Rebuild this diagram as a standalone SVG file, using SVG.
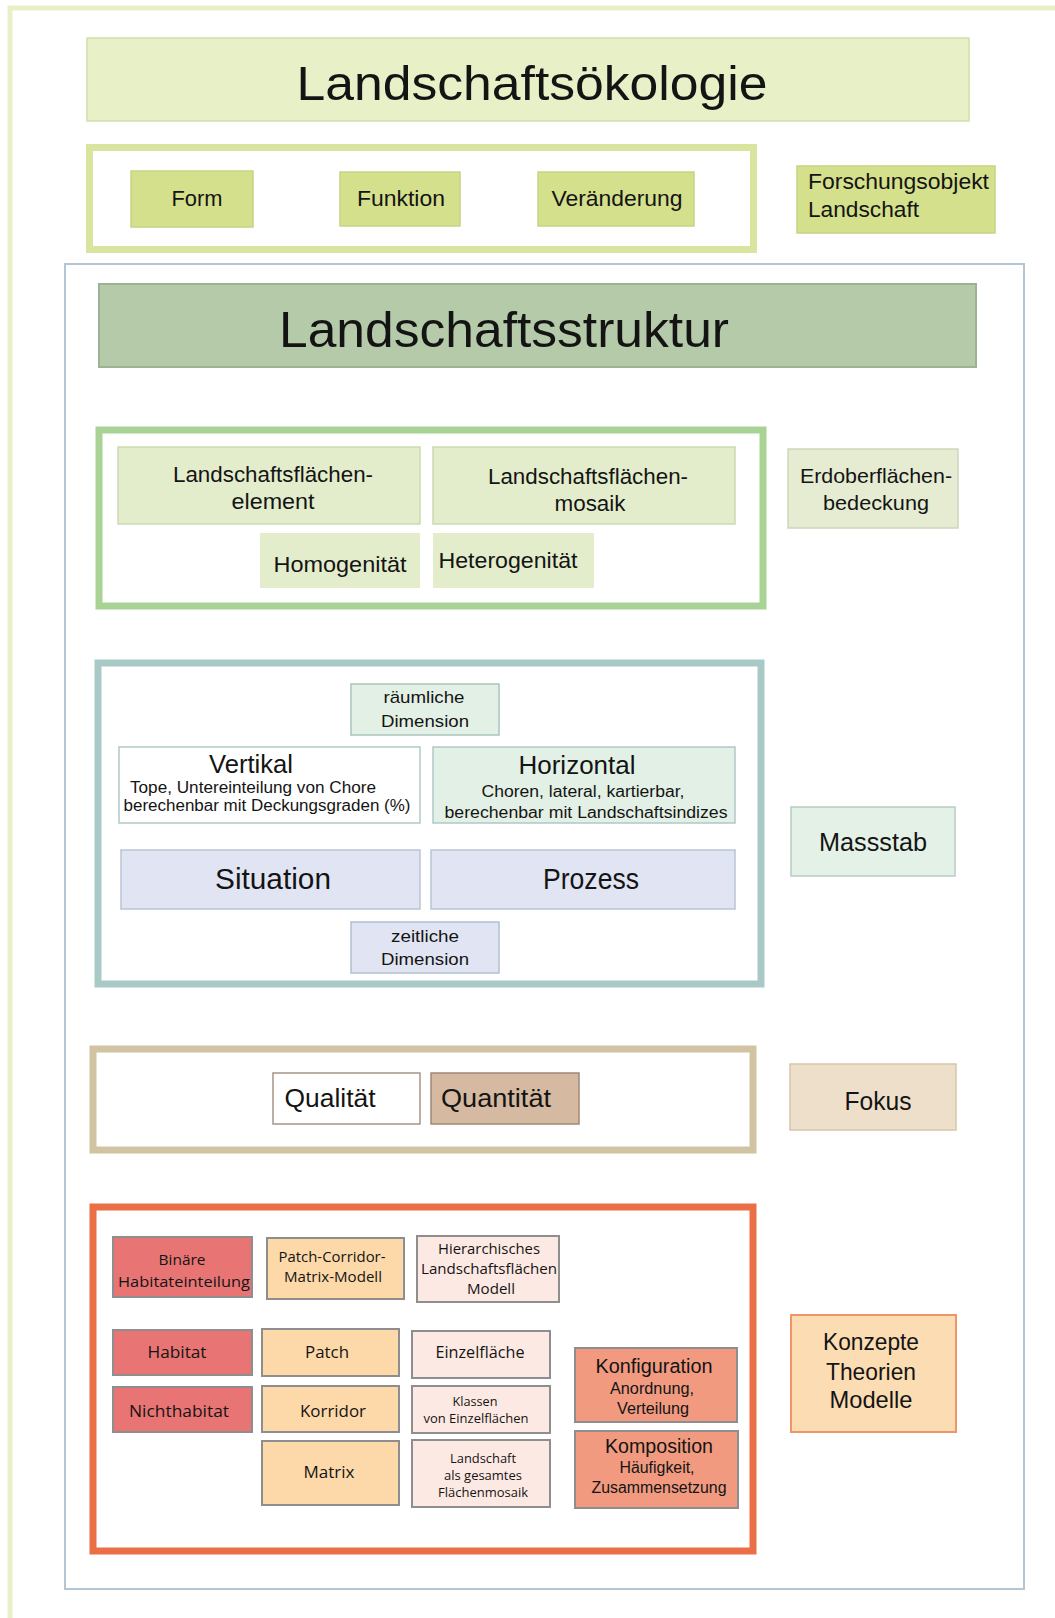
<svg xmlns="http://www.w3.org/2000/svg" width="1055" height="1618" viewBox="0 0 1055 1618">
<style>
text{font-family:"Liberation Sans",Arial,sans-serif;fill:#141414;text-anchor:middle}
.s{font-family:"Open Sans","DejaVu Sans",sans-serif}
.frame{fill:none;stroke-width:7}
.gb{stroke:#8e8e8e;stroke-width:2}
</style>
<rect width="1055" height="1618" fill="#ffffff"/>
<path d="M10 1618 V8 H1055" fill="none" stroke="#e8f0c8" stroke-width="5"/>

<g id="landschaftsoekologie">
<rect x="87" y="38" width="882" height="83" fill="#e8f0c8" stroke="#d0e0aa" stroke-width="1.5"/>
<text x="532" y="100" font-size="48" textLength="471" lengthAdjust="spacingAndGlyphs">Landschaftsökologie</text>
</g>
<g id="frame-objekt">
<rect x="89.5" y="147.5" width="664" height="102" class="frame" stroke="#d9e59e"/>
</g>
<g id="form">
<rect x="131" y="171" width="122" height="56" fill="#d4e08c" stroke="#c6d580" stroke-width="1.5"/>
<text x="197" y="206" font-size="22" textLength="51" lengthAdjust="spacingAndGlyphs">Form</text>
</g>
<g id="funktion">
<rect x="340" y="172" width="120" height="54" fill="#d4e08c" stroke="#c6d580" stroke-width="1.5"/>
<text x="401" y="206" font-size="22" textLength="88" lengthAdjust="spacingAndGlyphs">Funktion</text>
</g>
<g id="veraenderung">
<rect x="538" y="172" width="156" height="54" fill="#d4e08c" stroke="#c6d580" stroke-width="1.5"/>
<text x="617" y="206" font-size="22" textLength="131" lengthAdjust="spacingAndGlyphs">Veränderung</text>
</g>
<g id="forschungsobjekt">
<rect x="797" y="166" width="198" height="67" fill="#d4e08c" stroke="#c6d580" stroke-width="1.5"/>
<text x="808" y="189" font-size="22" style="text-anchor:start" textLength="181" lengthAdjust="spacingAndGlyphs">Forschungsobjekt</text>
<text x="808" y="217" font-size="22" style="text-anchor:start" textLength="111" lengthAdjust="spacingAndGlyphs">Landschaft</text>
</g>

<g id="landschaftsstruktur-rahmen">
<rect x="65" y="264" width="959" height="1325" fill="none" stroke="#b4c6d4" stroke-width="2"/>
</g>
<g id="landschaftsstruktur">
<rect x="99" y="284" width="877" height="83" fill="#b5caa9" stroke="#9db195" stroke-width="2"/>
<text x="504" y="347" font-size="50" textLength="450" lengthAdjust="spacingAndGlyphs">Landschaftsstruktur</text>
</g>

<g id="frame-flaechen">
<rect x="99" y="430" width="664" height="176" class="frame" stroke="#a9d394"/>
</g>
<g id="flaechenelement">
<rect x="118" y="447" width="302" height="77" fill="#e3edcb" stroke="#cbdab3" stroke-width="1.5"/>
<text x="273" y="482" font-size="22" textLength="200" lengthAdjust="spacingAndGlyphs">Landschaftsflächen-</text>
<text x="273" y="509" font-size="22" textLength="83" lengthAdjust="spacingAndGlyphs">element</text>
</g>
<g id="flaechenmosaik">
<rect x="433" y="447" width="302" height="77" fill="#e3edcb" stroke="#cbdab3" stroke-width="1.5"/>
<text x="588" y="484" font-size="22" textLength="200" lengthAdjust="spacingAndGlyphs">Landschaftsflächen-</text>
<text x="590" y="511" font-size="22" textLength="71" lengthAdjust="spacingAndGlyphs">mosaik</text>
</g>
<g id="homogenitaet">
<rect x="260" y="533" width="160" height="55" fill="#e3edcb"/>
<text x="340" y="572" font-size="22" textLength="133" lengthAdjust="spacingAndGlyphs">Homogenität</text>
</g>
<g id="heterogenitaet">
<rect x="433" y="533" width="161" height="55" fill="#e3edcb"/>
<text x="508" y="568" font-size="22" textLength="139" lengthAdjust="spacingAndGlyphs">Heterogenität</text>
</g>
<g id="erdoberflaechen">
<rect x="788" y="449" width="170" height="79" fill="#e5ecd2" stroke="#cdd6bf" stroke-width="1.5"/>
<text x="876" y="483" font-size="21" textLength="152" lengthAdjust="spacingAndGlyphs">Erdoberflächen-</text>
<text x="876" y="510" font-size="21" textLength="106" lengthAdjust="spacingAndGlyphs">bedeckung</text>
</g>

<g id="frame-massstab">
<rect x="98" y="663" width="663" height="321" class="frame" stroke="#a9c9c7"/>
</g>
<g id="raeumliche-dimension">
<rect x="351" y="684" width="148" height="51" fill="#e2f0e5" stroke="#a9c4bc" stroke-width="1.5"/>
<text x="424" y="703" font-size="17" textLength="81" lengthAdjust="spacingAndGlyphs">räumliche</text>
<text x="425" y="727" font-size="17" textLength="88" lengthAdjust="spacingAndGlyphs">Dimension</text>
</g>
<g id="vertikal">
<rect x="119" y="747" width="301" height="76" fill="#ffffff" stroke="#b0c8c8" stroke-width="1.5"/>
<text x="251" y="773" font-size="25" textLength="84" lengthAdjust="spacingAndGlyphs">Vertikal</text>
<text x="253" y="793" font-size="16" textLength="246" lengthAdjust="spacingAndGlyphs">Tope, Untereinteilung von Chore</text>
<text x="267" y="811" font-size="16" textLength="287" lengthAdjust="spacingAndGlyphs">berechenbar mit Deckungsgraden (%)</text>
</g>
<g id="horizontal">
<rect x="433" y="747" width="302" height="76" fill="#e2f0e5" stroke="#b0c8c8" stroke-width="1.5"/>
<text x="577" y="774" font-size="25" textLength="117" lengthAdjust="spacingAndGlyphs">Horizontal</text>
<text x="583" y="797" font-size="16" textLength="203" lengthAdjust="spacingAndGlyphs">Choren, lateral, kartierbar,</text>
<text x="586" y="818" font-size="16" textLength="283" lengthAdjust="spacingAndGlyphs">berechenbar mit Landschaftsindizes</text>
</g>
<g id="situation">
<rect x="121" y="850" width="299" height="59" fill="#e1e5f3" stroke="#b8c5d6" stroke-width="1.5"/>
<text x="273" y="889" font-size="29" textLength="116" lengthAdjust="spacingAndGlyphs">Situation</text>
</g>
<g id="prozess">
<rect x="431" y="850" width="304" height="59" fill="#e1e5f3" stroke="#b8c5d6" stroke-width="1.5"/>
<text x="591" y="889" font-size="29" textLength="96" lengthAdjust="spacingAndGlyphs">Prozess</text>
</g>
<g id="zeitliche-dimension">
<rect x="351" y="922" width="148" height="51" fill="#e1e5f3" stroke="#b0c0d0" stroke-width="1.5"/>
<text x="425" y="942" font-size="17" textLength="68" lengthAdjust="spacingAndGlyphs">zeitliche</text>
<text x="425" y="965" font-size="17" textLength="88" lengthAdjust="spacingAndGlyphs">Dimension</text>
</g>
<g id="massstab">
<rect x="791" y="807" width="164" height="69" fill="#e4f1e6" stroke="#b6ccc4" stroke-width="1.5"/>
<text x="873" y="851" font-size="26" textLength="108" lengthAdjust="spacingAndGlyphs">Massstab</text>
</g>

<g id="frame-fokus">
<rect x="93" y="1049" width="660" height="101" class="frame" stroke="#d2c3a2"/>
</g>
<g id="qualitaet">
<rect x="273" y="1073" width="147" height="51" fill="#ffffff" stroke="#a89484" stroke-width="1.5"/>
<text x="330" y="1107" font-size="25" textLength="91" lengthAdjust="spacingAndGlyphs">Qualität</text>
</g>
<g id="quantitaet">
<rect x="431" y="1073" width="148" height="51" fill="#d5b9a0" stroke="#a08878" stroke-width="1.5"/>
<text x="496" y="1107" font-size="25" textLength="110" lengthAdjust="spacingAndGlyphs">Quantität</text>
</g>
<g id="fokus">
<rect x="790" y="1064" width="166" height="66" fill="#eddfca" stroke="#d6c6aa" stroke-width="1.5"/>
<text x="878" y="1110" font-size="25" textLength="67" lengthAdjust="spacingAndGlyphs">Fokus</text>
</g>

<g id="frame-konzepte">
<rect x="93" y="1207" width="660" height="344" class="frame" stroke="#ea6f47"/>
</g>
<g id="binaere">
<rect x="113" y="1237" width="139" height="60" fill="#e87474" class="gb"/>
<text class="s" x="182" y="1265" font-size="15" textLength="47" lengthAdjust="spacingAndGlyphs">Binäre</text>
<text class="s" x="184" y="1287" font-size="15" textLength="132" lengthAdjust="spacingAndGlyphs">Habitateinteilung</text>
</g>
<g id="pcm-modell">
<rect x="267" y="1238" width="137" height="61" fill="#fdd9a9" class="gb"/>
<text class="s" x="332" y="1262" font-size="15" textLength="107" lengthAdjust="spacingAndGlyphs">Patch-Corridor-</text>
<text class="s" x="333" y="1282" font-size="15" textLength="98" lengthAdjust="spacingAndGlyphs">Matrix-Modell</text>
</g>
<g id="hierarchisches">
<rect x="417" y="1236" width="142" height="66" fill="#fde9e3" class="gb"/>
<text class="s" x="489" y="1254" font-size="15" textLength="102" lengthAdjust="spacingAndGlyphs">Hierarchisches</text>
<text class="s" x="489" y="1274" font-size="15" textLength="136" lengthAdjust="spacingAndGlyphs">Landschaftsflächen</text>
<text class="s" x="491" y="1294" font-size="15" textLength="48" lengthAdjust="spacingAndGlyphs">Modell</text>
</g>
<g id="habitat">
<rect x="113" y="1330" width="139" height="45" fill="#e87474" class="gb"/>
<text class="s" x="177" y="1358" font-size="17" textLength="59" lengthAdjust="spacingAndGlyphs">Habitat</text>
</g>
<g id="nichthabitat">
<rect x="113" y="1387" width="139" height="45" fill="#e87474" class="gb"/>
<text class="s" x="179" y="1417" font-size="17" textLength="100" lengthAdjust="spacingAndGlyphs">Nichthabitat</text>
</g>
<g id="patch">
<rect x="262" y="1329" width="137" height="47" fill="#fdd9a9" class="gb"/>
<text class="s" x="327" y="1358" font-size="17" textLength="44" lengthAdjust="spacingAndGlyphs">Patch</text>
</g>
<g id="korridor">
<rect x="262" y="1386" width="137" height="46" fill="#fdd9a9" class="gb"/>
<text class="s" x="333" y="1417" font-size="17" textLength="66" lengthAdjust="spacingAndGlyphs">Korridor</text>
</g>
<g id="matrix">
<rect x="262" y="1441" width="137" height="64" fill="#fdd9a9" class="gb"/>
<text class="s" x="329" y="1478" font-size="17" textLength="51" lengthAdjust="spacingAndGlyphs">Matrix</text>
</g>
<g id="einzelflaeche">
<rect x="412" y="1331" width="138" height="47" fill="#fde9e3" class="gb"/>
<text class="s" x="480" y="1358" font-size="17" textLength="89" lengthAdjust="spacingAndGlyphs">Einzelfläche</text>
</g>
<g id="klassen">
<rect x="412" y="1386" width="138" height="47" fill="#fde9e3" class="gb"/>
<text class="s" x="475" y="1406" font-size="13" textLength="45" lengthAdjust="spacingAndGlyphs">Klassen</text>
<text class="s" x="476" y="1423" font-size="13" textLength="105" lengthAdjust="spacingAndGlyphs">von Einzelflächen</text>
</g>
<g id="landschaft-gesamt">
<rect x="412" y="1440" width="138" height="67" fill="#fde9e3" class="gb"/>
<text class="s" x="483" y="1463" font-size="13" textLength="66" lengthAdjust="spacingAndGlyphs">Landschaft</text>
<text class="s" x="483" y="1480" font-size="13" textLength="78" lengthAdjust="spacingAndGlyphs">als gesamtes</text>
<text class="s" x="483" y="1497" font-size="13" textLength="90" lengthAdjust="spacingAndGlyphs">Flächenmosaik</text>
</g>
<g id="konfiguration">
<rect x="575" y="1348" width="162" height="74" fill="#f19a80" class="gb"/>
<text x="654" y="1373" font-size="20" textLength="117" lengthAdjust="spacingAndGlyphs">Konfiguration</text>
<text x="652" y="1394" font-size="16" textLength="84" lengthAdjust="spacingAndGlyphs">Anordnung,</text>
<text x="653" y="1414" font-size="16" textLength="72" lengthAdjust="spacingAndGlyphs">Verteilung</text>
</g>
<g id="komposition">
<rect x="575" y="1431" width="163" height="77" fill="#f19a80" class="gb"/>
<text x="659" y="1453" font-size="20" textLength="108" lengthAdjust="spacingAndGlyphs">Komposition</text>
<text x="657" y="1473" font-size="16" textLength="75" lengthAdjust="spacingAndGlyphs">Häufigkeit,</text>
<text x="659" y="1493" font-size="16" textLength="135" lengthAdjust="spacingAndGlyphs">Zusammensetzung</text>
</g>
<g id="konzepte">
<rect x="791" y="1315" width="165" height="117" fill="#fcdcb2" stroke="#f0956a" stroke-width="2"/>
<text x="871" y="1350" font-size="24" textLength="96" lengthAdjust="spacingAndGlyphs">Konzepte</text>
<text x="871" y="1380" font-size="24" textLength="90" lengthAdjust="spacingAndGlyphs">Theorien</text>
<text x="871" y="1408" font-size="24" textLength="83" lengthAdjust="spacingAndGlyphs">Modelle</text>
</g>
<g id="connectors"></g>
</svg>
